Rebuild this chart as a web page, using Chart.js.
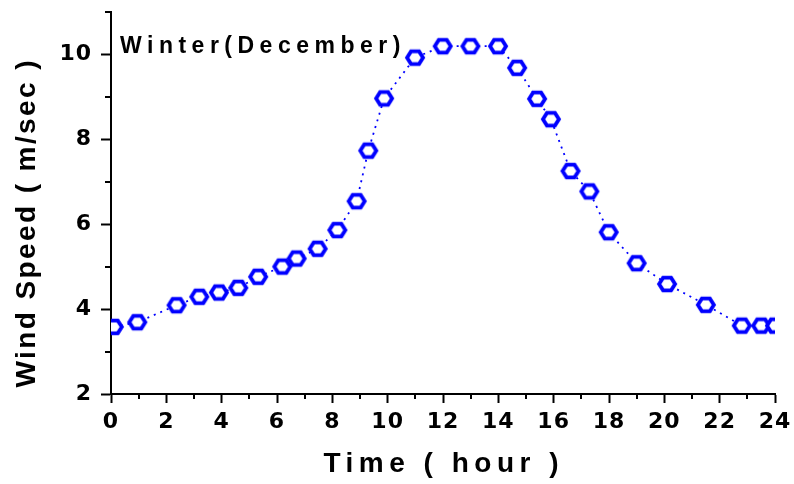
<!DOCTYPE html>
<html>
<head>
<meta charset="utf-8">
<script src="https://cdn.jsdelivr.net/npm/chart.js@4/dist/chart.umd.min.js"></script>
<style>
  html, body { margin: 0; padding: 0; background: #fff; }
  #wrap { width: 794px; height: 484px; }
</style>
</head>
<body>
<div id="wrap"><canvas id="windChart"></canvas></div>
<script>
// === DATA ===
const hours = [0.1, 0.95, 2.37, 3.19, 3.9, 4.6, 5.32, 6.19, 6.71, 7.47, 8.18, 8.88, 9.3, 9.87, 10.99,
  11.99, 12.99, 13.99, 14.68, 15.4, 15.9, 16.61, 17.29, 17.99, 19.0, 20.1, 21.5, 22.8, 23.5, 24.0];
const windSpeed = [3.58, 3.69, 4.09, 4.29, 4.39, 4.5, 4.76, 5.0, 5.19, 5.42, 5.86, 6.54, 7.73, 8.96, 9.92,
  10.19, 10.19, 10.19, 9.68, 8.95, 8.47, 7.25, 6.77, 5.81, 5.08, 4.59, 4.1, 3.61, 3.61, 3.61];
const xTicks = [0, 2, 4, 6, 8, 10, 12, 14, 16, 18, 20, 22, 24];
const xMinorTicks = [1, 3, 5, 7, 9, 11, 13, 15, 17, 19, 21, 23];
const yTicks = [2, 4, 6, 8, 10];
const yMinorTicks = [3, 5, 7, 9, 11];
const seriesLabel = 'Winter(December)';
const xTitle = 'Time ( hour )';
const yTitle = 'Wind Speed ( m/sec )';

// === HEXAGON MARKER ===
function hexagonMark() {
  const c = document.createElement('canvas');
  c.width = 24; c.height = 20;
  const g = c.getContext('2d');
  g.translate(12, 10);
  g.beginPath();
  g.moveTo(-8, 0); g.lineTo(-4, -6.3); g.lineTo(4, -6.3);
  g.lineTo(8, 0); g.lineTo(4, 6.3); g.lineTo(-4, 6.3);
  g.closePath();
  g.fillStyle = '#fff'; g.fill();
  g.lineWidth = 3.8; g.strokeStyle = '#0000ff'; g.stroke();
  return c;
}

// draws text with letter spacing, centred on cx
function spacedText(ctx, text, cx, cy, spacing) {
  ctx.letterSpacing = spacing + 'px';
  const w = ctx.measureText(text).width - spacing;
  ctx.fillText(text, cx - w / 2, cy);
}

// === MINOR TICKS + TITLES ===
const axisExtras = {
  id: 'axisExtras',
  beforeDraw(chart) {
    chart.ctx.letterSpacing = '1px';
  },
  afterDraw(chart) {
    const { ctx, chartArea, scales: { x, y } } = chart;
    ctx.save();
    ctx.strokeStyle = '#000';
    ctx.lineWidth = 2;
    ctx.beginPath();
    xMinorTicks.forEach(v => {
      const px = Math.round(x.getPixelForValue(v));
      ctx.moveTo(px, chartArea.bottom);
      ctx.lineTo(px, chartArea.bottom + 5);
    });
    yMinorTicks.forEach(v => {
      const py = Math.round(y.getPixelForValue(v));
      ctx.moveTo(chartArea.left, py);
      ctx.lineTo(chartArea.left - 6, py);
    });
    ctx.stroke();

    ctx.fillStyle = '#000';
    ctx.textAlign = 'left';
    ctx.textBaseline = 'alphabetic';

    ctx.font = 'bold 28px "Liberation Sans", Arial, sans-serif';
    spacedText(ctx, xTitle, 441, 472, 5.5);

    ctx.save();
    ctx.translate(35, 224);
    ctx.rotate(-Math.PI / 2);
    spacedText(ctx, yTitle, 0, 0, 2.4);
    ctx.restore();

    ctx.font = 'bold 23px "Liberation Sans", Arial, sans-serif';
    ctx.letterSpacing = '5.5px';
    ctx.fillText(seriesLabel, 120, 53);
    ctx.restore();
  }
};

// === CREATE CHART ===
const tickFont = { family: '"DejaVu Sans", sans-serif', size: 22, weight: 'bold' };
const ctx = document.getElementById('windChart').getContext('2d');
const chart = new Chart(ctx, {
  type: 'line',
  data: {
    datasets: [{
      label: seriesLabel,
      data: hours.map((h, i) => ({ x: h, y: windSpeed[i] })),
      borderColor: '#0000ff',
      borderWidth: 1.8,
      borderDash: [2, 5],
      pointStyle: hexagonMark(),
      pointRadius: 10,
      tension: 0,
      fill: false
    }]
  },
  options: {
    responsive: true,
    maintainAspectRatio: false,
    animation: false,
    layout: { padding: { top: 11, right: 19, left: 0, bottom: 0 } },
    plugins: {
      legend: { display: false },
      tooltip: { enabled: false }
    },
    scales: {
      x: {
        type: 'linear',
        min: 0,
        max: 24,
        afterBuildTicks: s => { s.ticks = xTicks.map(v => ({ value: v })); },
        afterFit: s => { s.height = 90; s.paddingLeft = 0; s.paddingRight = 0; },
        ticks: { color: '#000', font: tickFont, padding: 6, maxRotation: 0, autoSkip: false },
        grid: { drawOnChartArea: false, tickLength: 9, tickWidth: 2, tickColor: '#000' },
        border: { display: true, color: '#000', width: 2 }
      },
      y: {
        min: 2,
        max: 11,
        afterBuildTicks: s => { s.ticks = yTicks.map(v => ({ value: v })); },
        afterFit: s => { s.width = 111; s.paddingTop = 0; s.paddingBottom = 0; },
        ticks: { color: '#000', font: tickFont, padding: 9 },
        grid: { drawOnChartArea: false, tickLength: 10, tickWidth: 2, tickColor: '#000' },
        border: { display: true, color: '#000', width: 2 }
      }
    }
  },
  plugins: [axisExtras]
});
</script>
</body>
</html>
